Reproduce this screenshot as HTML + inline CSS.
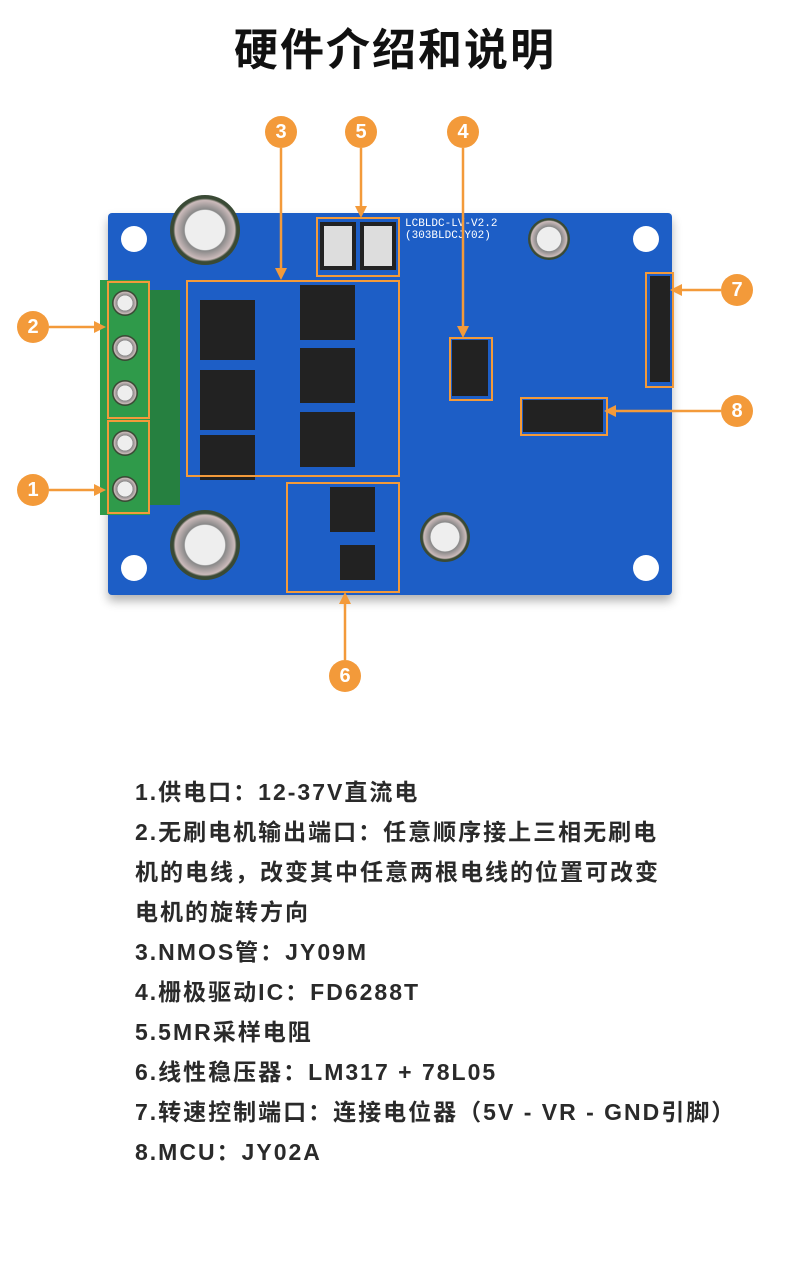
<!DOCTYPE html>
<html><head><meta charset="utf-8"><style>
body{margin:0;width:790px;height:1263px;background:#fff;position:relative;overflow:hidden;font-family:"Liberation Sans","Noto Sans CJK SC",sans-serif}
.a{position:absolute}
.t{position:absolute;left:0;width:790px;top:14px;text-align:center;font-size:44px;font-weight:bold;color:#111;letter-spacing:2px}
.c{position:absolute;width:32px;height:32px;border-radius:50%;background:#f39a3a;color:#fff;font-weight:bold;font-size:20px;text-align:center;line-height:32px}
.b{position:absolute;border:2px solid #f39a3a}
.txt{position:absolute;left:135px;font-size:23px;color:#2a2a2a;letter-spacing:2px;font-weight:600;white-space:nowrap}
.chip{position:absolute;background:#222}
.cap{position:absolute;border-radius:50%;background:radial-gradient(circle,#eee 0 40%,#888 42%,#cbb 60%,#3a4a35 64%)}
.hole{position:absolute;width:26px;height:26px;border-radius:50%;background:#fff}
</style></head><body>
<div class="t">硬件介绍和说明</div>
<div class="a" style="left:108px;top:213px;width:564px;height:382px;background:#1d5ec6;border-radius:4px;box-shadow:0 6px 10px rgba(0,0,0,.3)"></div>
<div class="hole" style="left:121px;top:226px"></div>
<div class="hole" style="left:633px;top:226px"></div>
<div class="hole" style="left:121px;top:555px"></div>
<div class="hole" style="left:633px;top:555px"></div>
<div class="cap" style="left:170px;top:195px;width:70px;height:70px"></div>
<div class="cap" style="left:170px;top:510px;width:70px;height:70px"></div>
<div class="cap" style="left:420px;top:512px;width:50px;height:50px"></div>
<div class="cap" style="left:528px;top:218px;width:42px;height:42px"></div>
<div class="a" style="left:100px;top:280px;width:50px;height:235px;background:#2f9a4a"></div>
<div class="a" style="left:150px;top:290px;width:30px;height:215px;background:#268040"></div>
<div class="cap" style="left:112px;top:290px;width:26px;height:26px"></div>
<div class="cap" style="left:112px;top:335px;width:26px;height:26px"></div>
<div class="cap" style="left:112px;top:380px;width:26px;height:26px"></div>
<div class="cap" style="left:112px;top:430px;width:26px;height:26px"></div>
<div class="cap" style="left:112px;top:476px;width:26px;height:26px"></div>
<div class="chip" style="left:200px;top:300px;width:55px;height:60px"></div>
<div class="chip" style="left:200px;top:370px;width:55px;height:60px"></div>
<div class="chip" style="left:200px;top:435px;width:55px;height:45px"></div>
<div class="chip" style="left:300px;top:285px;width:55px;height:55px"></div>
<div class="chip" style="left:300px;top:348px;width:55px;height:55px"></div>
<div class="chip" style="left:300px;top:412px;width:55px;height:55px"></div>
<div class="chip" style="left:330px;top:487px;width:45px;height:45px"></div>
<div class="chip" style="left:340px;top:545px;width:35px;height:35px"></div>
<div class="a" style="left:320px;top:222px;width:36px;height:48px;background:#ddd;border:4px solid #222;box-sizing:border-box"></div>
<div class="a" style="left:360px;top:222px;width:36px;height:48px;background:#ddd;border:4px solid #222;box-sizing:border-box"></div>
<div class="chip" style="left:452px;top:340px;width:36px;height:56px"></div>
<div class="chip" style="left:523px;top:400px;width:80px;height:32px"></div>
<div class="chip" style="left:650px;top:276px;width:20px;height:106px"></div>
<div class="a" style="left:405px;top:218px;font-size:11px;color:#fff;font-family:'Liberation Mono',monospace">LCBLDC-LV-V2.2<br>(303BLDCJY02)</div>
<div class="b" style="left:186px;top:280px;width:210px;height:193px"></div>
<div class="b" style="left:316px;top:217px;width:80px;height:56px"></div>
<div class="b" style="left:449px;top:337px;width:40px;height:60px"></div>
<div class="b" style="left:645px;top:272px;width:25px;height:112px"></div>
<div class="b" style="left:520px;top:397px;width:84px;height:35px"></div>
<div class="b" style="left:107px;top:281px;width:39px;height:134px"></div>
<div class="b" style="left:107px;top:420px;width:39px;height:90px"></div>
<div class="b" style="left:286px;top:482px;width:110px;height:107px"></div>
<svg class="a" style="left:0;top:0" width="790" height="720">
<g stroke="#f39a3a" stroke-width="2.5" fill="#f39a3a">
<line x1="281" y1="148" x2="281" y2="270"/><polygon points="275,268 287,268 281,280" stroke="none"/>
<line x1="361" y1="148" x2="361" y2="208"/><polygon points="355,206 367,206 361,218" stroke="none"/>
<line x1="463" y1="148" x2="463" y2="328"/><polygon points="457,326 469,326 463,338" stroke="none"/>
<line x1="721" y1="290" x2="680" y2="290"/><polygon points="682,284 682,296 670,290" stroke="none"/>
<line x1="721" y1="411" x2="614" y2="411"/><polygon points="616,405 616,417 604,411" stroke="none"/>
<line x1="49" y1="327" x2="96" y2="327"/><polygon points="94,321 94,333 106,327" stroke="none"/>
<line x1="49" y1="490" x2="96" y2="490"/><polygon points="94,484 94,496 106,490" stroke="none"/>
<line x1="345" y1="660" x2="345" y2="602"/><polygon points="339,604 351,604 345,592" stroke="none"/>
</g></svg>
<div class="c" style="left:265px;top:116px">3</div>
<div class="c" style="left:345px;top:116px">5</div>
<div class="c" style="left:447px;top:116px">4</div>
<div class="c" style="left:721px;top:274px">7</div>
<div class="c" style="left:721px;top:395px">8</div>
<div class="c" style="left:17px;top:311px">2</div>
<div class="c" style="left:17px;top:474px">1</div>
<div class="c" style="left:329px;top:660px">6</div>
<div class="txt" style="top:773px">1.供电口：12-37V直流电</div>
<div class="txt" style="top:813px">2.无刷电机输出端口：任意顺序接上三相无刷电</div>
<div class="txt" style="top:853px">机的电线，改变其中任意两根电线的位置可改变</div>
<div class="txt" style="top:893px">电机的旋转方向</div>
<div class="txt" style="top:933px">3.NMOS管：JY09M</div>
<div class="txt" style="top:973px">4.栅极驱动IC：FD6288T</div>
<div class="txt" style="top:1013px">5.5MR采样电阻</div>
<div class="txt" style="top:1053px">6.线性稳压器：LM317 + 78L05</div>
<div class="txt" style="top:1093px">7.转速控制端口：连接电位器（5V - VR - GND引脚）</div>
<div class="txt" style="top:1133px">8.MCU：JY02A</div>
</body></html>
